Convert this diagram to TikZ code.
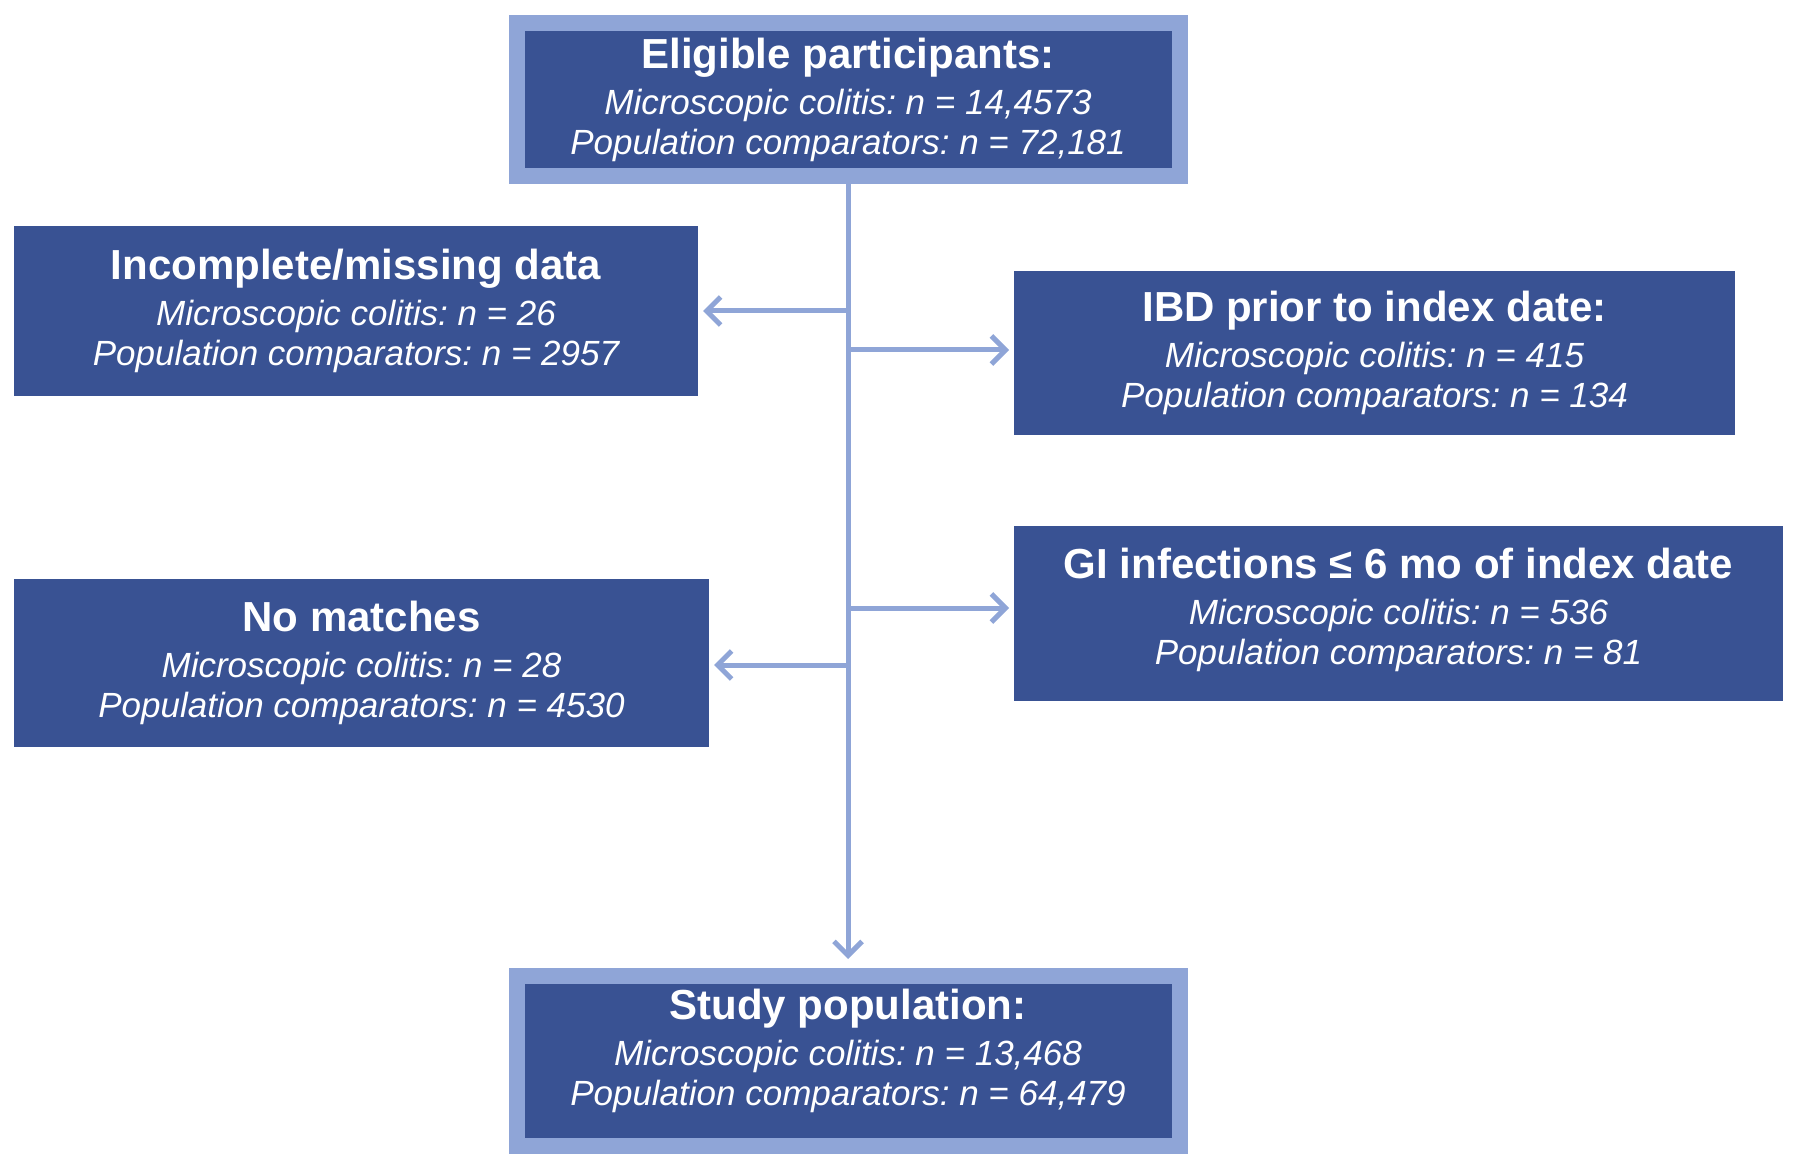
\documentclass[tikz,border=0pt]{standalone}
\usepackage{fontspec}
\setmainfont{Liberation Sans}
\usetikzlibrary{arrows.meta}
\definecolor{boxblue}{RGB}{57,82,147}
\definecolor{lightblue}{RGB}{143,165,215}
\newcommand\ttlfont{\fontsize{21}{20}\selectfont\bfseries\upshape}
\newcommand\bdyfont{\frenchspacing\fontsize{17.5}{20}\selectfont\itshape}
\begin{document}
\begin{tikzpicture}[x=0.5pt,y=-0.5pt,
  mainbox/.style={fill=boxblue, draw=lightblue, line width=8pt, text=white, align=center, inner sep=0pt, font=\bdyfont},
  sidebox/.style={fill=boxblue, text=white, align=center, inner sep=0pt, outer sep=0pt, font=\bdyfont},
  boxtext/.style={text=white, align=center, inner sep=0pt, font=\bdyfont},
  flowline/.style={draw=lightblue, line width=2.5pt},
  flowarrow/.style={flowline, -{Straight Barb[length=7pt,width=14pt]}, shorten >=2.5pt}]
\useasboundingbox (0,0) rectangle (1800,1166);
% boxes
\node[mainbox, minimum width=331.5pt, minimum height=76.5pt] (top) at (848,99.5)
  {{\ttlfont Eligible participants:}\\[3pt]Microscopic colitis: n = 14,4573\\Population comparators: n = 72,181};
\node[sidebox, minimum width=342pt, minimum height=85pt] (inc) at (356,311)
  {{\ttlfont Incomplete/missing data}\\[3pt]Microscopic colitis: n = 26\\Population comparators: n = 2957};
\node[sidebox, minimum width=360.5pt, minimum height=82pt] (ibd) at (1374.5,353)
  {{\ttlfont IBD prior to index date:}\\[3pt]Microscopic colitis: n = 415\\Population comparators: n = 134};
\node[sidebox, minimum width=384.5pt, minimum height=87.5pt] (gi) at (1398.5,613.5)
  {};
\node[boxtext] (gitext) at (1398.5,609.5)
  {{\ttlfont GI infections ≤ 6 mo of index date}\\[3pt]Microscopic colitis: n = 536\\Population comparators: n = 81};
\node[sidebox, minimum width=347.5pt, minimum height=84pt] (nom) at (361.5,663)
  {{\ttlfont No matches}\\[3pt]Microscopic colitis: n = 28\\Population comparators: n = 4530};
\node[mainbox, minimum width=331.5pt, minimum height=85pt] (study) at (848,1061) {};
\node[boxtext] (studytext) at (848,1051)
  {{\ttlfont Study population:}\\[3pt]Microscopic colitis: n = 13,468\\Population comparators: n = 64,479};
% connectors
\coordinate (j1) at (848,311);
\coordinate (j2) at (848,350);
\coordinate (j3) at (848,608);
\coordinate (j4) at (848,665);
\draw[flowarrow, shorten >=4.5pt] (top.south) -- (study.north);
\draw[flowarrow] (j1) -- (inc.east |- j1);
\draw[flowarrow] (j2) -- (ibd.west |- j2);
\draw[flowarrow] (j3) -- (gi.west |- j3);
\draw[flowarrow] (j4) -- (nom.east |- j4);
\end{tikzpicture}
\end{document}
